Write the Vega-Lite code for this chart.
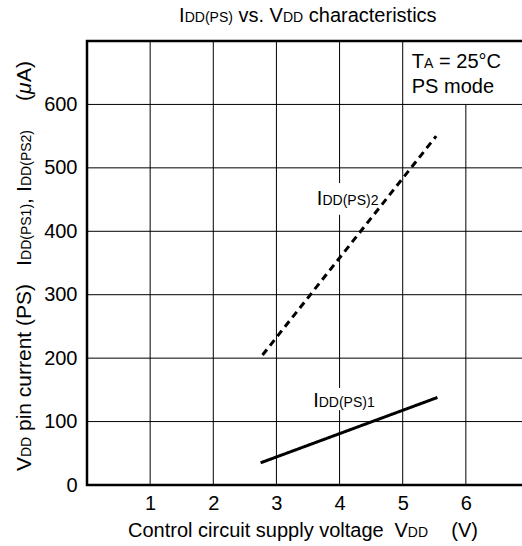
{
  "$schema": "https://vega.github.io/schema/vega-lite/v6.json",
  "autosize": "none",
  "width": 442,
  "height": 444,
  "padding": {"left": 87, "top": 41, "right": 0, "bottom": 61},
  "config": {
    "view": {"stroke": "black", "strokeWidth": 2.5},
    "font": "Liberation Sans",
    "text": {"font": "Liberation Sans", "color": "black", "align": "left", "baseline": "alphabetic"}
  },
  "datasets": {
    "grid": [
      {"x": 1, "x2": 1, "y": 0, "y2": 700},
      {"x": 2, "x2": 2, "y": 0, "y2": 700},
      {"x": 3, "x2": 3, "y": 0, "y2": 700},
      {"x": 4, "x2": 4, "y": 0, "y2": 118},
      {"x": 4, "x2": 4, "y": 153, "y2": 426},
      {"x": 4, "x2": 4, "y": 476, "y2": 700},
      {"x": 5, "x2": 5, "y": 0, "y2": 700},
      {"x": 6, "x2": 6, "y": 0, "y2": 600},
      {"x": 0, "x2": 7, "y": 100, "y2": 100},
      {"x": 0, "x2": 7, "y": 200, "y2": 200},
      {"x": 0, "x2": 7, "y": 300, "y2": 300},
      {"x": 0, "x2": 7, "y": 400, "y2": 400},
      {"x": 0, "x2": 7, "y": 500, "y2": 500},
      {"x": 0, "x2": 7, "y": 600, "y2": 600}
    ],
    "curves": [
      {"s": "IDD(PS)1", "x": 2.75, "y": 35},
      {"s": "IDD(PS)1", "x": 5.55, "y": 138},
      {"s": "IDD(PS)2", "x": 2.78, "y": 205},
      {"s": "IDD(PS)2", "x": 5.53, "y": 550}
    ],
    "textBig": [
      {"x": 1.458, "y": 730.3, "t": "I"},
      {"x": 2.399, "y": 730.3, "t": "vs. V"},
      {"x": 3.512, "y": 730.3, "t": "characteristics"},
      {"x": 5.143, "y": 657.3, "t": "T"},
      {"x": 5.575, "y": 657.3, "t": "= 25°C"},
      {"x": 5.143, "y": 617.8, "t": "PS mode"},
      {"x": 3.582, "y": 122.5, "t": "I"},
      {"x": 3.640, "y": 441.6, "t": "I"},
      {"x": 0.650, "y": -82, "t": "Control circuit supply voltage"},
      {"x": 4.869, "y": -82, "t": "V"},
      {"x": 5.769, "y": -82, "t": "(V)"}
    ],
    "textSmall": [
      {"x": 1.547, "y": 730.3, "t": "DD(PS)"},
      {"x": 3.103, "y": 730.3, "t": "DD"},
      {"x": 5.339, "y": 657.3, "t": "A"},
      {"x": 3.670, "y": 122.5, "t": "DD(PS)1"},
      {"x": 3.729, "y": 441.6, "t": "DD(PS)2"},
      {"x": 5.080, "y": -82, "t": "DD"}
    ],
    "vtextBig": [
      {"x": -0.887, "y": 22.1, "t": "V"},
      {"x": -0.887, "y": 85.1, "t": "pin current (PS)"},
      {"x": -0.887, "y": 345.3, "t": "I"},
      {"x": -0.887, "y": 443.0, "t": ","},
      {"x": -0.887, "y": 462.0, "t": "I"},
      {"x": -0.887, "y": 605.5, "t": "("},
      {"x": -0.887, "y": 635.4, "t": "A)"}
    ],
    "vtextSmall": [
      {"x": -0.887, "y": 44.1, "t": "DD"},
      {"x": -0.887, "y": 354.8, "t": "DD(PS1)"},
      {"x": -0.887, "y": 471.4, "t": "DD(PS2)"}
    ],
    "vtextItalic": [
      {"x": -0.887, "y": 616.5, "t": "μ"}
    ]
  },
  "encoding": {
    "x": {
      "field": "x", "type": "quantitative",
      "scale": {"domain": [0, 7], "nice": false, "zero": false},
      "axis": {
        "values": [1, 2, 3, 4, 5, 6], "grid": false, "domain": false, "ticks": false,
        "labelFontSize": 20, "labelFont": "Liberation Sans", "labelColor": "black",
        "labelPadding": 8, "title": null
      }
    },
    "y": {
      "field": "y", "type": "quantitative",
      "scale": {"domain": [0, 700], "nice": false, "zero": false},
      "axis": {
        "values": [0, 100, 200, 300, 400, 500, 600], "grid": false, "domain": false, "ticks": false,
        "labelFontSize": 20, "labelFont": "Liberation Sans", "labelColor": "black",
        "labelPadding": 10, "title": null
      }
    }
  },
  "layer": [
    {
      "data": {"name": "grid"},
      "mark": {"type": "rule", "color": "black", "strokeWidth": 1},
      "encoding": {"x2": {"field": "x2"}, "y2": {"field": "y2"}}
    },
    {
      "data": {"name": "curves"},
      "mark": {"type": "line", "color": "black", "strokeWidth": 3},
      "encoding": {
        "detail": {"field": "s"},
        "strokeDash": {
          "field": "s", "type": "nominal",
          "scale": {"domain": ["IDD(PS)1", "IDD(PS)2"], "range": [[1, 0], [7, 5]]},
          "legend": null
        }
      }
    },
    {
      "data": {"name": "textBig"},
      "mark": {"type": "text", "fontSize": 20},
      "encoding": {"text": {"field": "t"}}
    },
    {
      "data": {"name": "textSmall"},
      "mark": {"type": "text", "fontSize": 14},
      "encoding": {"text": {"field": "t"}}
    },
    {
      "data": {"name": "vtextBig"},
      "mark": {"type": "text", "fontSize": 21, "angle": 270},
      "encoding": {"text": {"field": "t"}}
    },
    {
      "data": {"name": "vtextSmall"},
      "mark": {"type": "text", "fontSize": 14, "angle": 270},
      "encoding": {"text": {"field": "t"}}
    },
    {
      "data": {"name": "vtextItalic"},
      "mark": {"type": "text", "fontSize": 21, "angle": 270, "fontStyle": "italic"},
      "encoding": {"text": {"field": "t"}}
    }
  ]
}
